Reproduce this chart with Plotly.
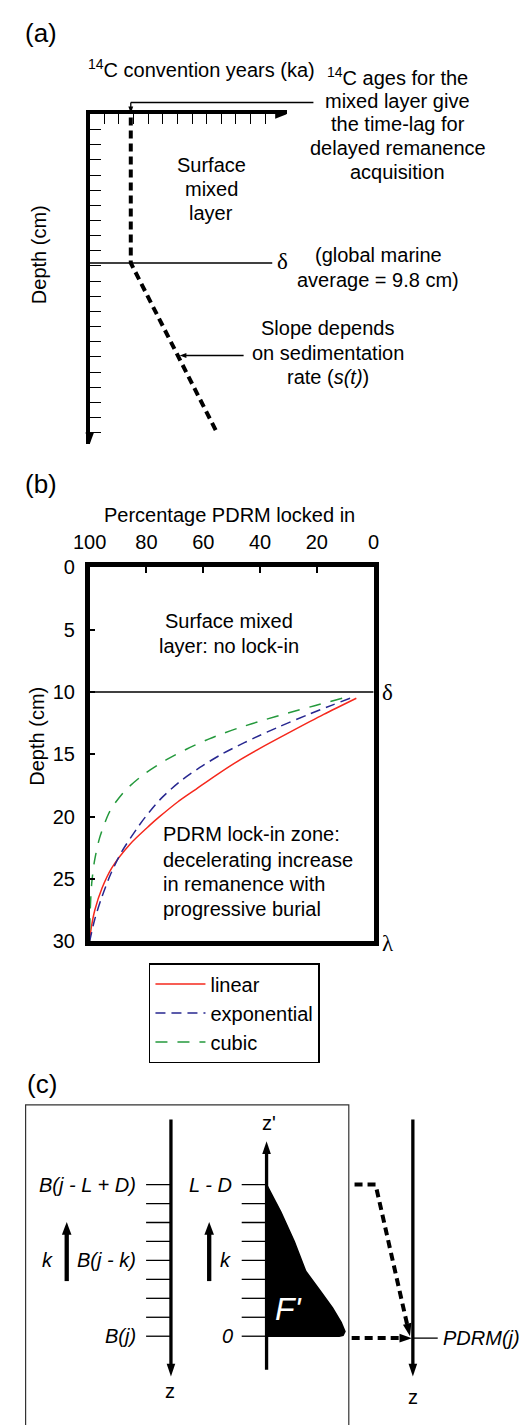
import math
import plotly.graph_objects as go

FONT = "Liberation Sans, Arial, Helvetica, sans-serif"
SERIF = "Liberation Serif, Times New Roman, serif"
W, H = 525, 1425

# ---------------- data: panel (a) schematic ----------------
age_ticks = list(range(1, 13))            # 14C convention years (ka) tick marks
depth_ticks_a = list(range(1, 22))        # depth tick marks (cm)
mixed_layer_age = 2.81                    # age of the surface mixed layer
delta_depth = 9.8                         # global marine average mixed-layer depth
profile_age = [mixed_layer_age, mixed_layer_age, 8.69]
profile_depth = [0.2, delta_depth, 20.97]
delta_line_age = [0, 12.48]
slope_arrow_depth = 15.9

# ---------------- data: panel (b) lock-in functions ----------------
depth_linear = [10.5, 11.8, 13.2, 14.5, 15.4, 16.6, 17.8, 18.8, 20.0, 20.7, 22.2, 24.1, 25.7, 27.5, 29.0, 30.0]
pct_linear = [6.1, 17.6, 29.3, 39.9, 46.8, 55.0, 62.6, 68.9, 75.4, 78.9, 85.8, 92.2, 95.6, 98.2, 99.5, 100.0]
depth_exponential = [10.5, 11.05, 11.8, 12.8, 13.7, 14.5, 15.0, 16.05, 17.2, 18.55, 20.0, 20.9, 22.8, 24.6, 26.5, 28.3, 30.0]
pct_exponential = [8.3, 14.6, 22.9, 33.4, 42.2, 49.4, 53.6, 61.2, 68.3, 74.9, 80.3, 83.2, 88.7, 92.6, 95.8, 98.3, 100.0]
depth_cubic = [10.5, 11.1, 11.7, 12.24, 12.89, 13.29, 13.76, 14.55, 15.45, 16.58, 17.9, 19.08, 19.74, 21.7, 23.55, 25.4, 27.8, 30.0]
pct_cubic = [11.1, 20.8, 30.3, 38.6, 47.6, 52.6, 57.9, 65.6, 73.1, 80.8, 87.5, 91.6, 93.3, 96.5, 98.3, 99.3, 99.85, 100.0]
pct_ticks = [100, 80, 60, 40, 20, 0]
depth_ticks_b = [0, 5, 10, 15, 20, 25, 30]
delta_b = 10

# ---------------- data: panel (c) convolution schematic ----------------
layer_k = list(range(0, 9))                  # layers j ... j-L+D
kernel_k = [8.0, 6.55, 5.0, 3.43, 2.4, 1.5, 0.73, 0.25, 0.05, 0.0]
kernel_w = [0, 15, 29, 41, 56, 69, 78, 82, 80, 76]
col_x = {"B": 161, "F": 261, "PDRM": 414}    # column positions
tick_len = 26

# ---------------- helpers ----------------
def PX(x):
    return x / W


def PY(y):
    return 1 - y / H

A_X0, A_UX, A_Y0, A_UY = 76, 15.3, 105, 15.4
A_XEND, A_YEND = 282, 440


def a_px(v):
    return A_X0 + v * A_UX


def a_py(v):
    return A_Y0 + v * A_UY

B_L, B_R, B_T, B_B = 76, 373, 565, 945
C_K0, C_UK, C_TOP, C_BOT = 1346, 19.25, 1111, 1425


def c_py(k):
    return C_K0 - k * C_UK

shapes, annotations = [], []


def arrowhead(tx, ty, dx, dy, L=12, Wd=9):
    n = math.hypot(dx, dy)
    ux, uy = dx / n, dy / n
    bx, by = tx - ux * L, ty - uy * L
    nx, ny = -uy, ux
    p1 = (bx + nx * Wd / 2, by + ny * Wd / 2)
    p2 = (bx - nx * Wd / 2, by - ny * Wd / 2)
    path = (f"M {PX(tx):.5f},{PY(ty):.5f} L {PX(p1[0]):.5f},{PY(p1[1]):.5f} "
            f"L {PX(p2[0]):.5f},{PY(p2[1]):.5f} Z")
    shapes.append(dict(type="path", xref="paper", yref="paper", path=path,
                       fillcolor="black", line=dict(width=0), layer="above"))


def pline(x0, y0, x1, y1, w=1.5, color="black"):
    shapes.append(dict(type="line", xref="paper", yref="paper", x0=PX(x0), y0=PY(y0),
                       x1=PX(x1), y1=PY(y1), line=dict(color=color, width=w), layer="above"))


def text(x, y, s, size=20, xanchor="center", family=FONT, color="black", angle=0):
    annotations.append(dict(x=PX(x), y=PY(y), xref="paper", yref="paper", text=s,
                            showarrow=False, xanchor=xanchor, yanchor="middle",
                            font=dict(size=size, family=family, color=color),
                            textangle=angle))

fig = go.Figure()

# ================= panel (a) =================
fig.add_trace(go.Scatter(x=profile_age, y=profile_depth, mode="lines", xaxis="x", yaxis="y",
                         line=dict(color="black", width=4, dash="8px,5px"), showlegend=False,
                         hoverinfo="skip"))
fig.add_trace(go.Scatter(x=delta_line_age, y=[delta_depth, delta_depth], mode="lines",
                         xaxis="x", yaxis="y", line=dict(color="black", width=1.5),
                         showlegend=False, hoverinfo="skip"))
arrowhead(A_XEND, A_Y0, 1, 0, L=12, Wd=9)
arrowhead(A_X0, A_YEND, 0, 1, L=12, Wd=9)
mx = a_px(mixed_layer_age)
pline(mx, 93, 310, 93, w=1.5)
pline(mx, 93, mx, 99, w=1.3)
arrowhead(mx, 104, 0, 1, L=7, Wd=5)
frac = (slope_arrow_depth - profile_depth[1]) / (profile_depth[2] - profile_depth[1])
slope_age = profile_age[1] + frac * (profile_age[2] - profile_age[1])
sx, sy = a_px(slope_age) + 2, a_py(slope_arrow_depth)
pline(sx + 5, sy, 237, sy, w=1.5)
arrowhead(sx, sy, -1, 0, L=7, Wd=5)

text(25, 22, "(a)", size=26)
text(72, 58, "<sup>14</sup>C convention years (ka)", xanchor="left")
for s, y in zip(["<sup>14</sup>C ages for the", "mixed layer give", "the time-lag for",
                 "delayed remanence", "acquisition"], [67, 91, 115, 139.5, 164]):
    text(398, y, s)
for s, y in zip(["Surface", "mixed", "layer"], [156, 181, 205]):
    text(203, y, s)
text(278, 254, "δ", size=23, family=SERIF)
text(378, 248, "(global marine")
text(378, 273, "average = 9.8 cm)")
for s, y in zip(["Slope depends", "on sedimentation", "rate (<i>s(t)</i>)"], [322, 347, 372]):
    text(325, y, s)
text(23, 247, "Depth (cm)", angle=-90)

# ================= panel (b) =================
fig.add_trace(go.Scatter(x=[100, 0], y=[delta_b, delta_b], mode="lines", xaxis="x2", yaxis="y2",
                         line=dict(color="black", width=1.6), showlegend=False, hoverinfo="skip"))
fig.add_trace(go.Scatter(x=pct_linear, y=depth_linear, mode="lines", name="linear",
                         xaxis="x2", yaxis="y2",
                         line=dict(color="#f5281c", width=1.5, shape="spline", smoothing=0.8)))
fig.add_trace(go.Scatter(x=pct_exponential, y=depth_exponential, mode="lines", name="exponential",
                         xaxis="x2", yaxis="y2",
                         line=dict(color="#272790", width=1.5, dash="10px,6px",
                                   shape="spline", smoothing=0.8)))
fig.add_trace(go.Scatter(x=pct_cubic, y=depth_cubic, mode="lines", name="cubic",
                         xaxis="x2", yaxis="y2",
                         line=dict(color="#24993c", width=1.5, dash="12px,10px",
                                   shape="spline", smoothing=0.8)))

text(25, 480, "(b)", size=26)
text(222, 512, "Percentage PDRM locked in")
text(21, 737, "Depth (cm)", angle=-90)
text(222, 620, "Surface mixed")
text(222, 645, "layer: no lock-in")
for s, y in zip(["PDRM lock-in zone:", "decelerating increase", "in remanence with",
                 "progressive burial"], [836, 862, 887, 912]):
    text(151, y, s, xanchor="left")
text(387, 692, "δ", size=23, family=SERIF)
text(388, 947, "λ", size=23, family=SERIF)

# ================= panel (c) =================
tx, ty = [], []
for k in layer_k:
    for key in ("B", "F"):
        tx += [col_x[key] - tick_len, col_x[key], None]
        ty += [k, k, None]
fig.add_trace(go.Scatter(x=tx, y=ty, mode="lines", xaxis="x3", yaxis="y3",
                         line=dict(color="black", width=1.3), showlegend=False, hoverinfo="skip"))
kx = [col_x["F"]] + [col_x["F"] + w for w in kernel_w] + [col_x["F"]]
ky = [kernel_k[0]] + kernel_k + [0]
fig.add_trace(go.Scatter(x=kx, y=ky, mode="lines", fill="toself", fillcolor="black",
                         xaxis="x3", yaxis="y3", line=dict(color="black", width=1.5),
                         showlegend=False, hoverinfo="skip"))
k_top_B, k_tip_B = (C_K0 - 1126) / C_UK, (C_K0 - 1387) / C_UK
k_bot_F, k_tip_F = (C_K0 - 1380) / C_UK, (C_K0 - 1148) / C_UK
for key, (k0, k1) in {"B": (k_top_B, k_tip_B + 0.4), "F": (k_bot_F, k_tip_F - 0.4),
                      "PDRM": (k_top_B, k_tip_B + 0.4)}.items():
    fig.add_trace(go.Scatter(x=[col_x[key]] * 2, y=[k0, k1], mode="lines", xaxis="x3", yaxis="y3",
                             line=dict(color="black", width=3.3), showlegend=False,
                             hoverinfo="skip"))
arrowhead(col_x["B"], 1387, 0, 1, L=13, Wd=9)
arrowhead(col_x["F"], 1148, 0, -1, L=13, Wd=9)
arrowhead(col_x["PDRM"], 1387, 0, 1, L=13, Wd=9)
for xk in (52, 201):
    fig.add_trace(go.Scatter(x=[xk, xk], y=[(C_K0 - 1290) / C_UK, (C_K0 - 1240) / C_UK],
                             mode="lines", xaxis="x3", yaxis="y3",
                             line=dict(color="black", width=4.3), showlegend=False,
                             hoverinfo="skip"))
    arrowhead(xk, 1230, 0, -1, L=13, Wd=10)
d1x = [353, 375, 408]
d1y = [8, 8, (C_K0 - 1334) / C_UK]
fig.add_trace(go.Scatter(x=d1x, y=d1y, mode="lines", xaxis="x3", yaxis="y3",
                         line=dict(color="black", width=4, dash="8px,5px"), showlegend=False,
                         hoverinfo="skip"))
arrowhead(411, 1346, 36, 154, L=13, Wd=9)
fig.add_trace(go.Scatter(x=[350, 402], y=[-0.1, -0.1], mode="lines", xaxis="x3", yaxis="y3",
                         line=dict(color="black", width=4, dash="8px,5px"), showlegend=False,
                         hoverinfo="skip"))
arrowhead(413, 1348, 1, 0, L=13, Wd=9)
fig.add_trace(go.Scatter(x=[col_x["PDRM"], 440], y=[-0.1, -0.1], mode="lines", xaxis="x3",
                         yaxis="y3", line=dict(color="black", width=1.3), showlegend=False,
                         hoverinfo="skip"))
shapes.append(dict(type="rect", xref="paper", yref="paper", x0=PX(9), x1=PX(347),
                   y0=PY(1440), y1=PY(1111), line=dict(color="#333333", width=1.2),
                   layer="below"))

text(26, 1090, "(c)", size=26)
text(127, c_py(8), "<i>B(j - L + D)</i>", xanchor="right")
text(127, c_py(4), "<i>B(j - k)</i>", xanchor="right")
text(127, c_py(0), "<i>B(j)</i>", xanchor="right")
text(32, c_py(4), "<i>k</i>")
text(227, c_py(8), "<i>L - D</i>", xanchor="right")
text(218, c_py(4), "<i>k</i>")
text(220, c_py(0), "<i>0</i>")
text(264, 1129, "z'")
text(160, 1402, "z")
text(414, 1408, "z")
text(443, 1348, "<i>PDRM(j)</i>", xanchor="left")
text(284, 1318, "<i>F'</i>", size=32, color="white")

# ================= layout =================
noaxis = dict(visible=False, showgrid=False, zeroline=False, fixedrange=True)
fig.update_layout(
    width=W, height=H, autosize=False,
    margin=dict(l=0, r=0, t=0, b=0, pad=0),
    paper_bgcolor="white", plot_bgcolor="rgba(0,0,0,0)",
    font=dict(family=FONT, size=20, color="black"),
    xaxis=dict(domain=[PX(A_X0), PX(A_XEND)], range=[0, (A_XEND - A_X0) / A_UX], side="top",
               anchor="y", showline=True, linewidth=4, linecolor="black", ticks="inside",
               tickvals=age_ticks, ticklen=10, tickwidth=1.3, tickcolor="black",
               showticklabels=False, showgrid=False, zeroline=False),
    yaxis=dict(domain=[PY(A_YEND), PY(A_Y0)], range=[(A_YEND - A_Y0) / A_UY, 0], anchor="x",
               showline=True, linewidth=4, linecolor="black", ticks="inside",
               tickvals=depth_ticks_a, ticklen=11, tickwidth=1.3, tickcolor="black",
               showticklabels=False, showgrid=False, zeroline=False),
    xaxis2=dict(domain=[PX(B_L), PX(B_R)], range=[100, 0], side="top", anchor="y2",
                tickvals=pct_ticks, ticks="inside", ticklen=6, tickwidth=1.5, tickcolor="black",
                showline=True, mirror=True, linewidth=4.5, linecolor="black",
                tickfont=dict(size=20, family=FONT), ticklabelstandoff=6,
                showgrid=False, zeroline=False),
    yaxis2=dict(domain=[PY(B_B), PY(B_T)], range=[30, 0], anchor="x2",
                tickvals=depth_ticks_b, ticks="inside", ticklen=6, tickwidth=1.5,
                tickcolor="black", showline=True, mirror=True, linewidth=4.5,
                linecolor="black", tickfont=dict(size=20, family=FONT), ticklabelstandoff=6,
                showgrid=False, zeroline=False),
    xaxis3=dict(domain=[0, 1], range=[0, W], anchor="y3", **noaxis),
    yaxis3=dict(domain=[0, PY(C_TOP)], range=[(C_K0 - C_BOT) / C_UK, (C_K0 - C_TOP) / C_UK],
                anchor="x3", **noaxis),
    legend=dict(x=PX(138), y=PY(967), xanchor="left", yanchor="top", bgcolor="white",
                bordercolor="black", borderwidth=1.5, font=dict(size=20, family=FONT),
                itemwidth=50, tracegroupgap=0),
    shapes=shapes,
    annotations=annotations,
)

fig.write_html("out.html", config={"displayModeBar": False})
